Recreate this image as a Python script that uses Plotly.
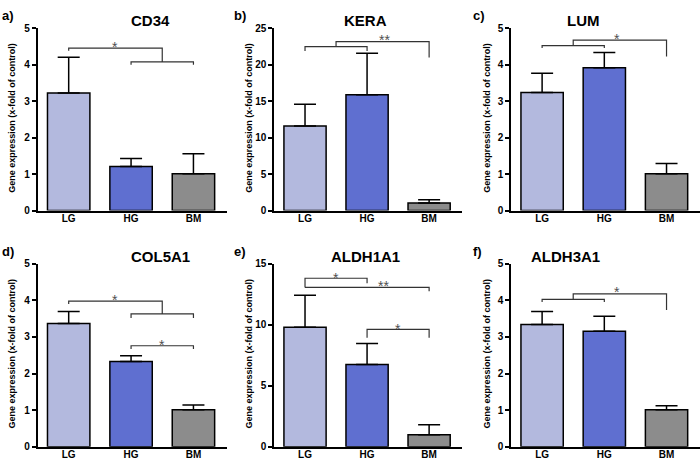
import plotly.graph_objects as go
from plotly.subplots import make_subplots

# data
groups = ['LG', 'HG', 'BM']
genes = ['CD34', 'KERA', 'LUM', 'COL5A1', 'ALDH1A1', 'ALDH3A1']
panel_tags = ['a)', 'b)', 'c)', 'd)', 'e)', 'f)']

cd34_mean = [3.23, 1.21, 1.01]
cd34_top = [4.21, 1.43, 1.56]
kera_mean = [11.6, 15.9, 1.03]
kera_top = [14.6, 21.6, 1.5]
lum_mean = [3.24, 3.92, 1.01]
lum_top = [3.77, 4.34, 1.29]
col5a1_mean = [3.37, 2.33, 1.01]
col5a1_top = [3.70, 2.49, 1.14]
aldh1a1_mean = [9.8, 6.74, 0.98]
aldh1a1_top = [12.43, 8.47, 1.8]
aldh3a1_mean = [3.34, 3.16, 1.01]
aldh3a1_top = [3.70, 3.57, 1.12]

y_max = [5, 25, 5, 5, 15, 5]
y_step = [1, 5, 1, 1, 5, 1]

# significance brackets: (x_left, x_right, y, y_left_end, y_right_end)
cd34_br = [(1, 2, 4.08, 4.0, 4.0), (0, 1.5, 4.46, 4.39, 4.08)]
kera_br = [(0, 1, 22.5, 21.9, 21.9), (0.5, 2, 23.2, 22.5, 21.0)]
lum_br = [(0, 1, 4.53, 4.46, 4.46), (0.5, 2, 4.68, 4.53, 4.23)]
col5a1_br = [(1, 2, 3.63, 3.52, 3.52), (0, 1.5, 3.98, 3.90, 3.63), (1, 2, 2.76, 2.67, 2.67)]
aldh1a1_br = [(0, 1, 13.82, 13.07, 13.42), (0, 2, 13.07, 13.07, 12.75), (1, 2, 9.62, 8.93, 8.93)]
aldh3a1_br = [(0, 1, 4.03, 3.96, 3.96), (0.5, 2, 4.18, 4.03, 3.74)]

# stars: (label, x, y)
cd34_st = [('*', 0.75, 4.6)]
kera_st = [('**', 1.28, 23.9)]
lum_st = [('*', 1.2, 4.83)]
col5a1_st = [('*', 0.75, 4.12), ('*', 1.5, 2.9)]
aldh1a1_st = [('*', 0.5, 14.2), ('**', 1.27, 13.5), ('*', 1.5, 9.95)]
aldh3a1_st = [('*', 1.2, 4.33)]

means = [cd34_mean, kera_mean, lum_mean, col5a1_mean, aldh1a1_mean, aldh3a1_mean]
tops = [cd34_top, kera_top, lum_top, col5a1_top, aldh1a1_top, aldh3a1_top]
brackets = [cd34_br, kera_br, lum_br, col5a1_br, aldh1a1_br, aldh3a1_br]
stars = [cd34_st, kera_st, lum_st, col5a1_st, aldh1a1_st, aldh3a1_st]

bar_colors = ['#b3b9de', '#5f6fd0', '#8c8c8c']
FONT = 'Liberation Sans, Arial, sans-serif'
W, H = 700, 466

fig = make_subplots(rows=2, cols=3)

# pixel positions of the plot areas
col_px = [(37.5, 226.5), (274, 462), (511, 699.5)]
row_px = [(23, 210), (264.7, 452.3)]

for i in range(6):
    r, c = i // 3 + 1, i % 3 + 1
    err = [t - m for t, m in zip(tops[i], means[i])]
    fig.add_trace(go.Bar(
        x=[0, 1, 2], y=means[i], width=0.68,
        marker=dict(color=bar_colors, line=dict(color='black', width=1.5)),
        error_y=dict(type='data', symmetric=False, array=err, arrayminus=[0, 0, 0],
                     color='black', thickness=1.5, width=11),
        hoverinfo='skip'), row=r, col=c)

    xs, ys = [], []
    for x0, x1, y, yl, yr in brackets[i]:
        xs += [x0, x0, x1, x1, None]
        ys += [yl, y, y, yr, None]
    fig.add_trace(go.Scatter(x=xs, y=ys, mode='lines',
                             line=dict(color='#333333', width=1.2),
                             hoverinfo='skip'), row=r, col=c)

    xa = 'x' if i == 0 else 'x%d' % (i + 1)
    ya = 'y' if i == 0 else 'y%d' % (i + 1)
    for txt, sx, sy in stars[i]:
        fig.add_annotation(x=sx, y=sy, xref=xa, yref=ya, text=txt, showarrow=False,
                           font=dict(family=FONT, size=14, color='#505050'),
                           yshift=-4)

    x0p, x1p = col_px[c - 1]
    y0p, y1p = row_px[r - 1]
    fig.update_xaxes(domain=[x0p / W, x1p / W], range=[-0.5, 2.53],
                     tickvals=[0, 1, 2], ticktext=groups, ticks='',
                     showline=True, linecolor='black', linewidth=1.5,
                     showgrid=False, zeroline=False, ticklabelstandoff=-2,
                     tickfont=dict(family=FONT, size=10, color='black', weight='bold'),
                     row=r, col=c)
    fig.update_yaxes(domain=[1 - y1p / H, 1 - y0p / H], range=[0, y_max[i]],
                     dtick=y_step[i], tick0=0, ticks='outside', ticklen=4,
                     tickwidth=1.5, tickcolor='black',
                     showline=True, linecolor='black', linewidth=1.5,
                     showgrid=False, zeroline=False,
                     tickfont=dict(family=FONT, size=10, color='black', weight='bold'),
                     row=r, col=c)

    # title, panel tag and y-axis title
    fig.add_annotation(x=(x0p + x1p) / 2 / W - 0.004, y=1 - (y0p - 8) / H, xref='paper', yref='paper',
                       text=genes[i], showarrow=False, yanchor='middle',
                       font=dict(family=FONT, size=15, color='black', weight='bold'))
    tag_x = [0, 232, 471][c - 1]
    fig.add_annotation(x=tag_x / W, y=1 - (y0p - 13) / H, xref='paper', yref='paper',
                       text=panel_tags[i], showarrow=False, xanchor='left', yanchor='middle',
                       font=dict(family=FONT, size=13, color='black', weight='bold'))
    lab_x = [12, 249, 487][c - 1]
    fig.add_annotation(x=lab_x / W, y=1 - (y0p + y1p) / 2 / H + 0.004, xref='paper', yref='paper',
                       text='Gene expression (x-fold of control)', showarrow=False,
                       textangle=-90, xanchor='center', yanchor='middle',
                       font=dict(family=FONT, size=9, color='black', weight='bold'))

fig.update_layout(width=W, height=H, margin=dict(l=0, r=0, t=0, b=0),
                  plot_bgcolor='white', paper_bgcolor='white', showlegend=False)

# drop the default page margin so the figure sits at the window's corner
fig.write_html('out.html', config={'displayModeBar': False},
               post_script="document.body.style.margin='0';")
